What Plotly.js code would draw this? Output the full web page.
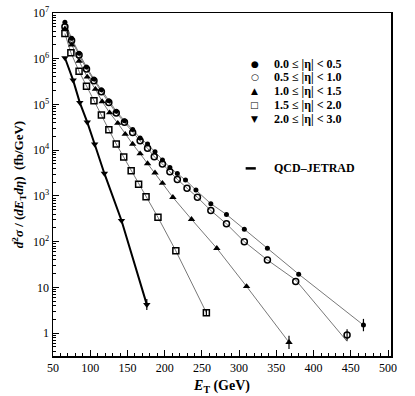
<!DOCTYPE html>
<html>
<head>
<meta charset="utf-8">
<script src="https://cdn.plot.ly/plotly-3.0.1.min.js"></script>
<style>
  body { margin: 0; background: #fff; }
  #plot { width: 415px; height: 396px; }
</style>
</head>
<body>
<div id="plot"></div>
<script>
// E_T (GeV) and cross section (fb/GeV) per eta bin
var et00 = [66, 75, 85, 95, 105, 115, 125, 135, 146, 157, 167, 177, 187, 197, 207, 217, 228, 242, 262, 283, 307, 338, 380, 467];
var xs00 = [6.3e6, 2.8e6, 1.32e6, 6.6e5, 3.6e5, 2.1e5, 1.2e5, 7.1e4, 4.43e4, 2.84e4, 1.84e4, 1.36e4, 9.2e3, 6.1e3, 4.17e3, 3.08e3, 2.22e3, 1.34e3, 676, 393, 187, 71.8, 19.5, 1.5];

var et05 = [66, 75, 85, 95, 105, 115, 125, 135, 146, 157, 167, 177, 186, 197, 207, 217, 230, 244, 262, 283, 307, 338, 376, 445];
var xs05 = [5.0e6, 2.5e6, 1.2e6, 6.0e5, 3.3e5, 1.9e5, 1.1e5, 6.5e4, 4.07e4, 2.45e4, 1.6e4, 1.1e4, 7.2e3, 5.0e3, 3.4e3, 2.3e3, 1.48e3, 933, 479, 245, 100, 39.8, 13.5, 0.91];

var et10 = [66, 75, 85, 96, 107, 116, 126, 137, 147, 157, 167, 177, 187, 197, 211, 236, 270, 310, 367];
var xs10 = [4.5e6, 2.0e6, 8.9e5, 4.0e5, 2.16e5, 1.16e5, 6.6e4, 3.9e4, 2.24e4, 1.36e4, 8.4e3, 5.1e3, 3.2e3, 1.9e3, 933, 309, 71.8, 10.5, 0.63];

var et15 = [66, 74, 85, 95, 105, 115, 125, 135, 145, 155, 165, 175, 191, 215, 256];
var xs15 = [3.55e6, 1.36e6, 5.3e5, 2.5e5, 1.2e5, 5.9e4, 2.8e4, 1.36e4, 7.1e3, 3.55e3, 1.8e3, 960, 340, 63, 2.8];

var et20 = [66, 77, 86, 96, 106, 119, 142, 176];
var xs20 = [1.05e6, 3.4e5, 1.1e5, 4.1e4, 1.35e4, 3.1e3, 290, 4.2];

// QCD-JETRAD curves (mostly on the points)
var thy05 = [5.0e6, 2.5e6, 1.2e6, 6.0e5, 3.3e5, 1.9e5, 1.1e5, 6.5e4, 4.07e4, 2.45e4, 1.6e4, 1.1e4, 7.2e3, 5.0e3, 3.4e3, 2.3e3, 1.48e3, 933, 479, 245, 100, 39.8, 14.5, 0.66];

// errors on the last point of each bin (up, down)
var errUp = [0.55, 0.3, 0.25, 0.5, 1.4];
var errDn = [0.4, 0.23, 0.18, 0.4, 1.0];

var labels = ['0.0 \u2264 |\u03b7| < 0.5', '0.5 \u2264 |\u03b7| < 1.0', '1.0 \u2264 |\u03b7| < 1.5', '1.5 \u2264 |\u03b7| < 2.0', '2.0 \u2264 |\u03b7| < 3.0'];
var glyphs = ['\u25cf', '\u25cb', '\u25b2', '\u25a1', '\u25bc'];

var ets = [et00, et05, et10, et15, et20];
var xss = [xs00, xs05, xs10, xs15, xs20];
var thys = [xs00, thy05, xs10, xs15, xs20];
var syms = ['circle', 'circle-open', 'triangle-up', 'square-open', 'triangle-down'];
var sizes = [5, 6, 6.5, 6, 6.5];

function lastOnly(arr, v) {
  return arr.map(function (d, i) { return i === arr.length - 1 ? v : 0; });
}

var data = [];
// lines first
for (var i = 0; i < 5; i++) {
  data.push({
    x: ets[i], y: thys[i], type: 'scatter', mode: 'lines', hoverinfo: 'skip',
    line: { color: i === 4 ? '#000' : '#555', width: i === 4 ? 2 : 0.8 },
    showlegend: false
  });
}
// points (open symbols take their outline from marker.color)
for (var i = 0; i < 5; i++) {
  var open = (i === 1 || i === 3);
  data.push({
    x: ets[i], y: xss[i], type: 'scatter', mode: 'markers', name: labels[i],
    marker: { symbol: syms[i], size: sizes[i], color: '#000',
              line: { color: '#000', width: open ? 1.5 : 0 } },
    error_y: { type: 'data', symmetric: false, array: lastOnly(ets[i], errUp[i]),
               arrayminus: lastOnly(ets[i], errDn[i]), color: '#000', thickness: 1.2, width: 0 },
    showlegend: false
  });
}

var serif = 'Liberation Serif, Times New Roman, serif';
var legY = [0.851, 0.812, 0.773, 0.731, 0.692];
var ann = [];
for (var i = 0; i < 5; i++) {
  ann.push({ xref: 'paper', yref: 'paper', x: 0.597, y: legY[i], xanchor: 'center', yanchor: 'middle',
             text: '<b>' + glyphs[i] + '</b>', showarrow: false, font: { family: 'DejaVu Sans', size: 9, color: '#000' } });
  ann.push({ xref: 'paper', yref: 'paper', x: 0.647, y: legY[i], xanchor: 'left', yanchor: 'middle',
             text: '<b>' + labels[i].replace('<', '&lt;') + '</b>', showarrow: false,
             font: { family: serif, size: 12, color: '#000' } });
}
ann.push({ xref: 'paper', yref: 'paper', x: 0.647, y: 0.547, xanchor: 'left', yanchor: 'middle',
           text: '<b>QCD\u2013JETRAD</b>', showarrow: false, font: { family: serif, size: 12, color: '#000' } });

var layout = {
  width: 415, height: 396,
  margin: { l: 53, r: 24, t: 13, b: 40 },
  paper_bgcolor: '#fff', plot_bgcolor: '#fff',
  showlegend: false,
  font: { family: serif, size: 12, color: '#000' },
  xaxis: {
    range: [50, 504], tickvals: [50, 100, 150, 200, 250, 300, 350, 400, 450, 500],
    ticks: 'inside', ticklen: 6, tickcolor: '#000', showgrid: false, zeroline: false,
    showline: true, linecolor: '#000', linewidth: 1.5, mirror: true,
    minor: { dtick: 10, ticks: 'inside', ticklen: 3, tickcolor: '#000', showgrid: false },
    tickfont: { family: serif, size: 12 },
    title: { text: '<b><i>E</i><sub>T</sub> (GeV)</b>', font: { family: serif, size: 14 }, standoff: 6 }
  },
  yaxis: {
    type: 'log', range: [-0.5, 7],
    tickvals: [1, 10, 100, 1e3, 1e4, 1e5, 1e6, 1e7],
    ticktext: ['1', '10', '10<sup>2</sup>', '10<sup>3</sup>', '10<sup>4</sup>', '10<sup>5</sup>', '10<sup>6</sup>', '10<sup>7</sup>'],
    ticks: 'inside', ticklen: 6, tickcolor: '#000', showgrid: false, zeroline: false,
    showline: true, linecolor: '#000', linewidth: 1.5, mirror: true,
    minor: { dtick: 'D1', ticks: 'inside', ticklen: 3, tickcolor: '#000', showgrid: false },
    tickfont: { family: serif, size: 12 },
    title: { text: '<b><i>d</i><sup>2</sup><i>\u03c3</i> / (<i>dE</i><sub>T</sub><i>d\u03b7</i>)  (fb/GeV)</b>',
             font: { family: serif, size: 13 }, standoff: 6 }
  },
  annotations: ann,
  shapes: [{ type: 'line', xref: 'paper', yref: 'paper', x0: 0.570, x1: 0.600, y0: 0.547, y1: 0.547,
             line: { color: '#000', width: 2.5 } }]
};

Plotly.newPlot('plot', data, layout, { staticPlot: true });
</script>
</body>
</html>
